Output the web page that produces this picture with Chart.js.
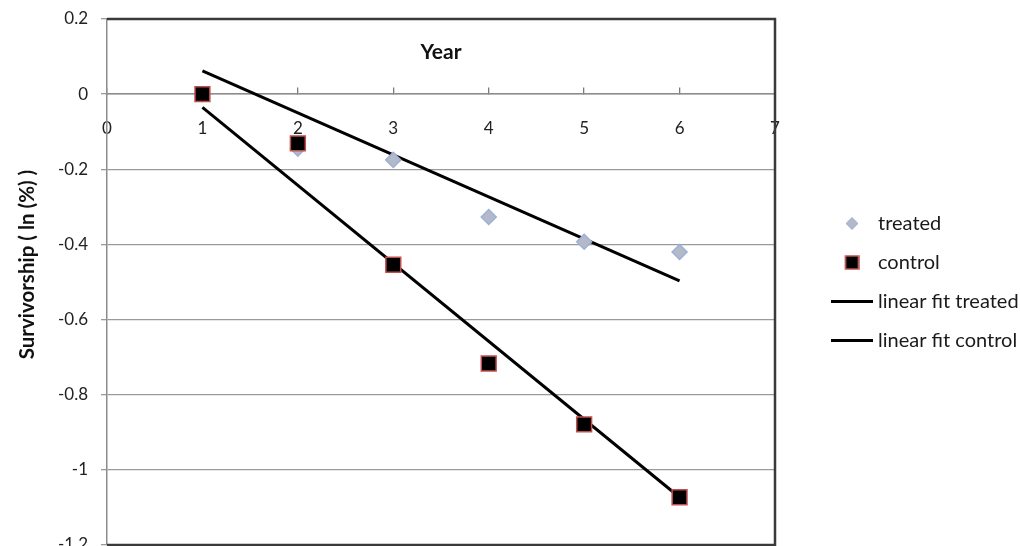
<!DOCTYPE html>
<html>
<head>
<meta charset="utf-8">
<script src="https://cdn.jsdelivr.net/npm/chart.js@4"></script>
<style>
html, body { margin: 0; padding: 0; background: #fff; overflow: hidden; }
#wrap { width: 1020px; height: 570px; }
</style>
</head>
<body>
<div id="wrap"><canvas id="chart1" width="1020" height="570"></canvas></div>
<script>
// data
var years = [1, 2, 3, 4, 5, 6];
var treated = [0, -0.145, -0.175, -0.327, -0.393, -0.42];
var control = [0, -0.131, -0.454, -0.717, -0.879, -1.073];
var fitYears = [1, 6];
var fitTreated = [0.062, -0.497];
var fitControl = [-0.035, -1.073];
var xTicks = [0, 1, 2, 3, 4, 5, 6, 7];
var yTicks = [0.2, 0, -0.2, -0.4, -0.6, -0.8, -1, -1.2];
var names = ['treated', 'control', 'linear fit treated', 'linear fit control'];

function pts(xs, ys) {
    return xs.map(function (x, i) { return {x: x, y: ys[i]}; });
}

// legend sizing: text must start ~103px right of the plot, symbols centred ~77px right of it
var legendFont = 20, legendPad = 19;
var m = document.createElement('canvas').getContext('2d');
m.font = legendFont + 'px Lato';
var textW = Math.max.apply(null, names.map(function (n) { return m.measureText(n).width; }));
var boxW = 103 - legendPad - legendFont / 2;
var shift = 77 - legendPad - boxW / 2;

// the y title sits a bit above the middle of the plot in the reference:
// leading blanks (the text reads bottom to top) push the centred text upwards
m.font = 'bold 20.5px Lato';
var blanks = '';
while (m.measureText(blanks).width < 34) blanks += ' ';

// little legend symbols, padded on the left so they sit where the reference has them
function symbol(kind) {
    var c = document.createElement('canvas');
    var g = c.getContext('2d');
    var w = kind == 'line' ? 42 : (kind == 'square' ? 15 : 14);
    var h = kind == 'line' ? 3 : w;
    var off = Math.max(0, 2 * shift);
    c.width = w + off; c.height = h;
    g.translate(off, 0);
    if (kind == 'diamond') {
        g.beginPath();
        g.moveTo(7, 1); g.lineTo(13, 7); g.lineTo(7, 13); g.lineTo(1, 7); g.closePath();
        g.fillStyle = '#b3b9c9'; g.fill();
        g.strokeStyle = '#9db1d6'; g.lineWidth = 1; g.stroke();
    } else if (kind == 'square') {
        g.fillStyle = '#000'; g.fillRect(1, 1, 13, 13);
        g.strokeStyle = '#c0504d'; g.lineWidth = 1.5; g.strokeRect(1, 1, 13, 13);
    } else {
        g.fillStyle = '#000'; g.fillRect(0, 0, 42, 3);
    }
    return c;
}
var legendSymbols = [symbol('diamond'), symbol('square'), symbol('line'), symbol('line')];

var frame = {
    id: 'frame',
    afterDraw: function (chart) {
        var a = chart.chartArea, c = chart.ctx;
        c.save();
        c.strokeStyle = '#3a3a3a';
        c.lineWidth = 2.5;
        c.beginPath();
        c.moveTo(a.left, a.top); c.lineTo(a.right, a.top);
        c.lineTo(a.right, a.bottom); c.lineTo(a.left, a.bottom);
        c.stroke();
        c.font = 'bold 21px Lato';
        c.fillStyle = '#111';
        c.textAlign = 'center';
        c.textBaseline = 'middle';
        var y0 = chart.scales.y.getPixelForValue(0);
        c.fillText('Year', (a.left + a.right) / 2, y0 - 42);
        c.restore();
    }
};

// legend box = pad + boxW + font/2 + text + 10; its left edge is the plot's right edge (775)
var legendWidth = legendPad + boxW + legendFont / 2 + textW + 10;
var padRight = 1020 - 775 - legendWidth;

function noEdgePadding(s) {
    s.paddingTop = 0; s.paddingBottom = 0;
}

var ctx = document.getElementById('chart1').getContext('2d');
var myChart = new Chart(ctx, {
    data: {
        datasets: [{
            type: 'scatter',
            label: names[0],
            data: pts(years, treated),
            pointStyle: 'rectRot',
            pointRadius: 7.5,
            backgroundColor: '#b3b9c9',
            borderColor: '#9db1d6',
            borderWidth: 1.5,
            order: 2
        }, {
            type: 'scatter',
            label: names[1],
            data: pts(years, control),
            pointStyle: 'rect',
            pointRadius: 10.5,
            backgroundColor: '#000',
            borderColor: '#c0504d',
            borderWidth: 1.5,
            order: 1
        }, {
            type: 'line',
            label: names[2],
            data: pts(fitYears, fitTreated),
            borderColor: '#000',
            borderWidth: 3,
            pointRadius: 0,
            order: 3
        }, {
            type: 'line',
            label: names[3],
            data: pts(fitYears, fitControl),
            borderColor: '#000',
            borderWidth: 3,
            pointRadius: 0,
            order: 3
        }]
    },
    options: {
        responsive: false,
        animation: false,
        layout: { padding: { top: 19, bottom: 25, left: 0, right: padRight } },
        scales: {
            x: {
                type: 'linear',
                min: 0, max: 7,
                position: { y: 0 },
                afterBuildTicks: function (s) { s.ticks = xTicks.map(function (v) { return {value: v}; }); },
                afterFit: noEdgePadding,
                // negative tick length: the marks point up from the axis, as in the reference
                grid: { drawOnChartArea: false, color: '#7a7a7a', lineWidth: 1.3, tickLength: -7 },
                border: { color: '#8c8c8c', width: 1.5 },
                ticks: { padding: 31, font: { family: 'Lato', size: 17 }, color: '#222' }
            },
            y: {
                min: -1.2, max: 0.2,
                afterBuildTicks: function (s) { s.ticks = yTicks.map(function (v) { return {value: v}; }); },
                afterFit: function (s) { s.width = 107; noEdgePadding(s); },
                grid: { color: '#9a9a9a', lineWidth: 1.3, tickLength: 6 },
                border: { color: '#8c8c8c', width: 1.5 },
                ticks: {
                    padding: 13,
                    font: { family: 'Lato', size: 17 },
                    color: '#222',
                    callback: function (v) { return String(Math.round(v * 10) / 10); }
                },
                title: {
                    display: true,
                    text: blanks + 'Survivorship ( ln (%) )',
                    font: { family: 'Lato', size: 20.5, weight: 'bold' },
                    color: '#111',
                    padding: { top: 15, bottom: 0 }
                }
            }
        },
        plugins: {
            tooltip: { enabled: false },
            legend: {
                position: 'right',
                labels: {
                    usePointStyle: true,
                    pointStyleWidth: boxW,
                    padding: legendPad,
                    font: { family: 'Lato', size: legendFont },
                    color: '#1a1a1a',
                    generateLabels: function (chart) {
                        return names.map(function (n, i) {
                            return {
                                text: n,
                                pointStyle: legendSymbols[i],
                                fillStyle: 'rgba(0,0,0,0)',
                                strokeStyle: 'rgba(0,0,0,0)',
                                lineWidth: 0,
                                fontColor: '#1a1a1a',
                                datasetIndex: i
                            };
                        });
                    }
                }
            }
        }
    },
    plugins: [frame]
});
</script>
</body>
</html>
